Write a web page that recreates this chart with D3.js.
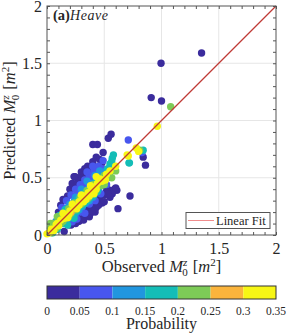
<!DOCTYPE html>
<html>
<head>
<meta charset="utf-8">
<script src="https://cdn.jsdelivr.net/npm/d3@7"></script>
<style>
  body { margin: 0; background: #fff; }
  svg { display: block; }
  text { font-family: "Liberation Serif", "DejaVu Serif", serif; fill: #262626; }
</style>
</head>
<body>
<div id="chart"></div>
<script>
// probability bins for the colour bar
const probEdges = [0, 0.05, 0.1, 0.15, 0.2, 0.25, 0.3, 0.35]
const binColors = ['#3b2c9d', '#4856ee', '#2196df', '#14bdb7', '#7dcb57', '#fbb43c', '#f7f615']
const axisTicks = [0, 0.5, 1, 1.5, 2]

// [observed, predicted] pairs, one list per probability bin
const bin0 = [[1.35,1.59],[0.996,1.50],[0.91,1.20],[1.0,1.17],[0.535,0.845],[0.56,0.88],[0.40,0.79],[0.44,0.79],
  [0.49,0.72],[0.48,0.63],[0.84,0.68],[0.86,0.61],[0.725,0.34],[0.62,0.23],[0.61,0.39],[0.14,0.31],[0.245,0.51],
  [0.32,0.52],[0.28,0.50],[0.34,0.55],[0.355,0.60],[0.52,0.42],[0.59,0.40],[0.55,0.39],[0.50,0.35],[0.46,0.31],
  [0.41,0.27],[0.36,0.23],[0.31,0.19],[0.27,0.15],[0.23,0.12],[0.19,0.09],[0.48,0.28],[0.43,0.24],[0.38,0.19],
  [0.33,0.16],[0.28,0.12],[0.44,0.34],[0.40,0.30],[0.35,0.26],[0.30,0.22],[0.52,0.38],[0.20,0.40],[0.22,0.45],
  [0.27,0.47],[0.30,0.55],[0.40,0.64],[0.43,0.68],[0.18,0.34],[0.12,0.26],[0.10,0.20],[0.42,0.20],[0.25,0.10],
  [0.32,0.13],[0.37,0.16],[0.155,0.31],[0.57,0.36],[0.236,0.51],[0.35,0.58],[0.50,0.29],[0.41,0.23],[0.35,0.175],
  [0.265,0.116],[0.21,0.087],[0.15,0.03],[0.60,0.41],[0.53,0.36],[0.38,0.55],[0.31,0.50],[0.26,0.45],[0.45,0.26],
  [0.39,0.21],[0.55,0.33],[0.46,0.66],[0.33,0.58]]
const bin1 = [[0.71,0.83],[0.49,0.65],[0.45,0.60],[0.41,0.56],[0.37,0.52],[0.33,0.48],[0.29,0.44],[0.25,0.40],
  [0.21,0.35],[0.17,0.30],[0.35,0.55],[0.39,0.50],[0.31,0.42],[0.27,0.37],[0.44,0.54],[0.83,0.72],[0.48,0.58],
  [0.42,0.30],[0.47,0.36],[0.52,0.44],[0.30,0.24],[0.22,0.16],[0.37,0.27],[0.13,0.24],[0.40,0.60],[0.38,0.44],
  [0.38,0.50],[0.265,0.38],[0.22,0.116],[0.29,0.20],[0.34,0.45],[0.42,0.47],[0.46,0.50],[0.26,0.14],[0.33,0.19]]
const bin2 = [[0.35,0.47],[0.30,0.40],[0.25,0.33],[0.20,0.27],[0.42,0.52],[0.46,0.56],[0.16,0.22],[0.12,0.17],
  [0.40,0.33],[0.34,0.28],[0.28,0.22],[0.22,0.17],[0.50,0.55],[0.08,0.12],[0.45,0.40],[0.31,0.36],[0.24,0.30],
  [0.18,0.24],[0.36,0.40],[0.39,0.45],[0.44,0.49],[0.31,0.25],[0.25,0.19],[0.37,0.30]]
const bin3 = [[0.565,0.64],[0.58,0.70],[0.72,0.63],[0.84,0.74],[0.55,0.62],[0.47,0.50],[0.43,0.47],[0.38,0.42],
  [0.33,0.37],[0.27,0.31],[0.22,0.25],[0.17,0.20],[0.12,0.14],[0.06,0.08],[0.44,0.38],[0.38,0.33],[0.32,0.27],
  [0.26,0.21],[0.20,0.15],[0.14,0.10],[0.09,0.05],[0.50,0.44],[0.05,0.02],[0.53,0.58],[0.18,0.087],[0.236,0.146],
  [0.716,0.63],[0.57,0.67],[0.29,0.25],[0.35,0.30],[0.41,0.35],[0.16,0.22],[0.11,0.17]]
const bin4 = [[1.08,1.12],[0.60,0.56],[0.565,0.50],[0.81,0.74],[0.50,0.52],[0.45,0.47],[0.40,0.44],[0.35,0.39],
  [0.29,0.33],[0.24,0.28],[0.19,0.23],[0.14,0.18],[0.10,0.14],[0.05,0.10],[0.03,0.06],[0.42,0.38],[0.36,0.32],
  [0.30,0.27],[0.25,0.22],[0.19,0.16],[0.14,0.12],[0.08,0.06],[0.04,0.02],[0.55,0.55],[0.47,0.43],[0.585,0.57],
  [0.50,0.44],[0.09,0.16],[0.03,0.10],[0.41,0.41],[0.27,0.26],[0.31,0.31],[0.21,0.19],[0.12,0.10],[0.53,0.50]]
const bin5 = [[0.21,0.20],[0.33,0.34]]
const bin6 = [[0.963,0.95],[0.78,0.76],[0.71,0.69],[0.60,0.60],[0.52,0.53],[0.48,0.47],[0.44,0.45],[0.40,0.40],
  [0.36,0.37],[0.32,0.33],[0.28,0.29],[0.24,0.25],[0.20,0.21],[0.16,0.17],[0.12,0.13],[0.08,0.09],[0.04,0.05],
  [0.02,0.02],[0.00,0.01],[0.26,0.23],[0.34,0.31],[0.18,0.15],[0.10,0.08],[0.30,0.35],[0.22,0.27],[0.14,0.19],
  [0.38,0.43],[0.06,0.04],[0.46,0.49],[0.43,0.51],[0.49,0.48],[0.70,0.70],[0.80,0.73],[0.41,0.36],[0.32,0.29],
  [0.15,0.146],[0.09,0.10],[0.51,0.48],[0.37,0.34],[0.28,0.26],[0.19,0.18],[0.55,0.56],[0.43,0.40]]
const bins = [bin0, bin1, bin2, bin3, bin4, bin5, bin6]

const width = 288, height = 336
const plot = { left: 47, right: 276, top: 6, bottom: 235 }
const serif = '"Liberation Serif", "DejaVu Serif", serif'

const svg = d3.select('#chart').append('svg')
  .attr('width', width)
  .attr('height', height)

const x = d3.scaleLinear().domain([0, 2]).range([plot.left, plot.right])
const y = d3.scaleLinear().domain([0, 2]).range([plot.bottom, plot.top])

// grid
const grid = svg.append('g').attr('stroke', '#e6e6e6').attr('stroke-width', 1)
grid.selectAll('.gx').data(axisTicks.slice(1, -1)).enter().append('line')
  .attr('x1', d => x(d)).attr('x2', d => x(d))
  .attr('y1', plot.top).attr('y2', plot.bottom)
grid.selectAll('.gy').data(axisTicks.slice(1, -1)).enter().append('line')
  .attr('y1', d => y(d)).attr('y2', d => y(d))
  .attr('x1', plot.left).attr('x2', plot.right)

// scatter, low probability first
const points = bins.flatMap((b, i) => b.map(p => ({ obs: p[0], pred: p[1], bin: i })))
svg.append('g').selectAll('circle').data(points).enter().append('circle')
  .attr('cx', d => x(d.obs))
  .attr('cy', d => y(d.pred))
  .attr('r', 3.7)
  .attr('fill', d => binColors[d.bin])

// 1:1 line
svg.append('line')
  .attr('x1', x(0)).attr('y1', y(0))
  .attr('x2', x(2)).attr('y2', y(2))
  .attr('stroke', '#bf3a36').attr('stroke-width', 1.2)

// axes, ticks pointing inwards
const minor = d3.range(0, 21).map(i => i / 10)
const fmt = d3.format('')
const drawAxis = (axis, tr, labels) => {
  const g = svg.append('g').attr('transform', tr).call(axis).attr('font-family', serif)
  g.select('.domain').remove()
  g.selectAll('line').attr('stroke', '#555')
  if (!labels) g.selectAll('text').remove()
  else g.selectAll('text').attr('font-size', 16).attr('fill', '#262626')
  return g
}
drawAxis(d3.axisBottom(x).tickValues(minor).tickSize(-3).tickFormat(''), `translate(0,${plot.bottom})`, false)
drawAxis(d3.axisTop(x).tickValues(minor).tickSize(-3).tickFormat(''), `translate(0,${plot.top})`, false)
drawAxis(d3.axisLeft(y).tickValues(minor).tickSize(-3).tickFormat(''), `translate(${plot.left},0)`, false)
drawAxis(d3.axisRight(y).tickValues(minor).tickSize(-3).tickFormat(''), `translate(${plot.right},0)`, false)
drawAxis(d3.axisBottom(x).tickValues(axisTicks).tickSize(0).tickPadding(8).tickFormat(fmt), `translate(0,${plot.bottom})`, true)
drawAxis(d3.axisLeft(y).tickValues(axisTicks).tickSize(0).tickPadding(5).tickFormat(fmt), `translate(${plot.left},0)`, true)

svg.append('rect')
  .attr('x', plot.left).attr('y', plot.top)
  .attr('width', plot.right - plot.left).attr('height', plot.bottom - plot.top)
  .attr('fill', 'none').attr('stroke', '#555').attr('stroke-width', 1)

// M_0^z [m^2] style label
function mathLabel(t, word) {
  t.append('tspan').text(word + ' ')
  t.append('tspan').attr('font-style', 'italic').text('M')
  t.append('tspan').attr('font-style', 'italic').attr('font-size', 11).attr('dy', -6).text('z')
  t.append('tspan').attr('font-size', 11).attr('dx', -5).attr('dy', 10).text('0')
  t.append('tspan').attr('dy', -4).attr('dx', 5).text('[')
  t.append('tspan').attr('font-style', 'italic').text('m')
  t.append('tspan').attr('font-size', 11).attr('dy', -6).text('2')
  t.append('tspan').attr('dy', 6).text(']')
}
mathLabel(svg.append('text')
  .attr('x', (plot.left + plot.right) / 2).attr('y', 272)
  .attr('text-anchor', 'middle').attr('font-size', 16.5), 'Observed')
mathLabel(svg.append('text')
  .attr('transform', `translate(15,${(plot.top + plot.bottom) / 2}) rotate(-90)`)
  .attr('text-anchor', 'middle').attr('font-size', 16.5), 'Predicted')

// panel title
const title = svg.append('text').attr('x', 53).attr('y', 20)
title.append('tspan').attr('font-weight', 'bold').attr('font-size', 14.5).text('(a)')
title.append('tspan').attr('font-style', 'italic').attr('font-size', 14).attr('letter-spacing', 0.6).text('Heave')

// legend
const leg = svg.append('g')
leg.append('rect').attr('x', 186).attr('y', 212.5).attr('width', 84).attr('height', 16)
  .attr('fill', '#fff').attr('stroke', '#555')
leg.append('line').attr('x1', 188).attr('x2', 214).attr('y1', 220.5).attr('y2', 220.5)
  .attr('stroke', '#f08c8c').attr('stroke-width', 1)
leg.append('text').attr('x', 216).attr('y', 224.5).attr('font-size', 12.5).text('Linear Fit')

// colour bar
const cb = d3.scaleLinear().domain([0, 0.35]).range([plot.left, plot.right])
const bar = svg.append('g')
bar.selectAll('rect').data(binColors).enter().append('rect')
  .attr('x', (d, i) => cb(probEdges[i]))
  .attr('width', (d, i) => cb(probEdges[i + 1]) - cb(probEdges[i]))
  .attr('y', 286).attr('height', 13)
  .attr('fill', d => d)
bar.append('rect').attr('x', plot.left).attr('y', 286).attr('width', plot.right - plot.left).attr('height', 13)
  .attr('fill', 'none').attr('stroke', '#333')
bar.selectAll('.cbl').data(probEdges).enter().append('text')
  .attr('x', d => cb(d)).attr('y', 314.5)
  .attr('text-anchor', 'middle').attr('font-size', 11.5)
  .text(d => fmt(d))
svg.append('text').attr('x', (plot.left + plot.right) / 2).attr('y', 329)
  .attr('text-anchor', 'middle').attr('font-size', 16).text('Probability')
</script>
</body>
</html>
